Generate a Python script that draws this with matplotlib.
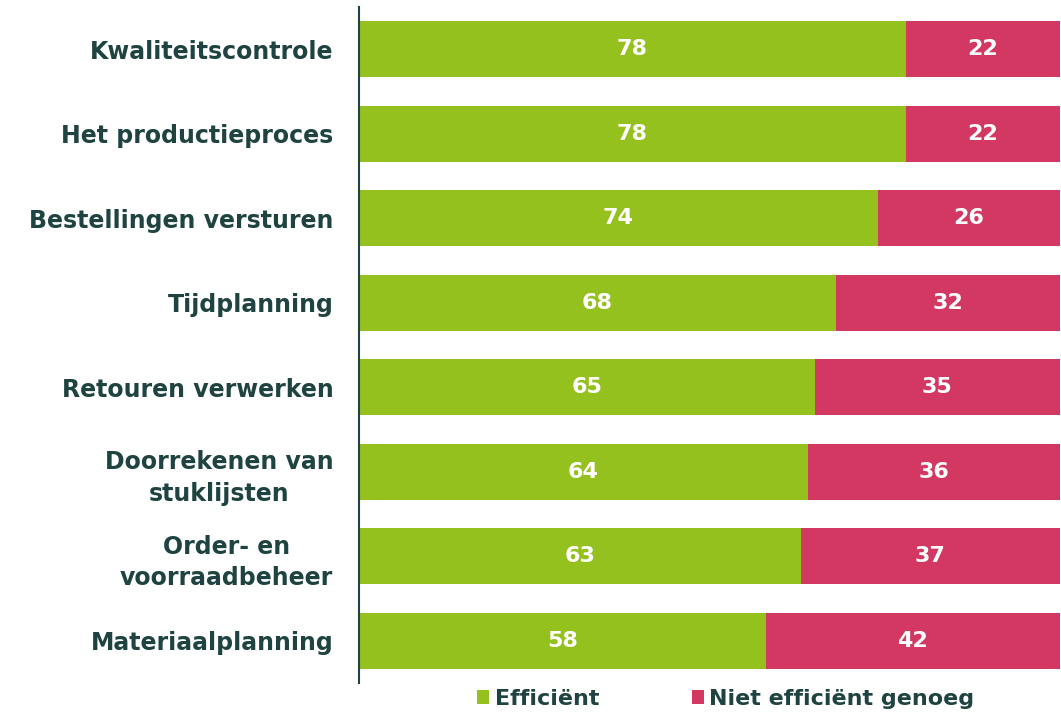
import matplotlib.pyplot as plt
import numpy as np

categories = ['Kwaliteitscontrole', 'Het productieproces', 'Bestellingen versturen',
              'Tijdplanning', 'Retouren verwerken', 'Doorrekenen van\nstuklijsten',
              'Order- en\nvoorraadbeheer', 'Materiaalplanning']
efficient = [78, 78, 74, 68, 65, 64, 63, 58]
niet_efficient = [22, 22, 26, 32, 35, 36, 37, 42]
series_names = ['Efficiënt', 'Niet efficiënt genoeg']

green = '#95c11f'
pink = '#d33862'
dark = '#1e4340'

fig = plt.figure(figsize=(10.61, 7.13), dpi=100)
ax = fig.add_axes([0.3384, 0.042, 0.6606, 0.948])

y = np.arange(len(categories))
h = 0.66
ax.barh(y, efficient, height=h, color=green, label=series_names[0])
ax.barh(y, niet_efficient, left=efficient, height=h, color=pink, label=series_names[1])

for i in range(len(categories)):
    ax.text(efficient[i] / 2, y[i], str(efficient[i]), ha='center', va='center',
            color='white', fontsize=16, fontweight='bold')
    ax.text(efficient[i] + niet_efficient[i] / 2, y[i], str(niet_efficient[i]),
            ha='center', va='center', color='white', fontsize=16, fontweight='bold')

ax.set_xlim(0, 100)
ax.set_ylim(7.5, -0.5)
ax.set_yticks(y)
ax.set_yticklabels(categories, fontsize=17, fontweight='bold', color=dark,
                   ha='right', multialignment='center', linespacing=1.4)
ax.tick_params(axis='y', length=0, pad=18.5)
ax.set_xticks([])
for s in ['top', 'right', 'bottom']:
    ax.spines[s].set_visible(False)
ax.spines['left'].set_color(dark)
ax.spines['left'].set_linewidth(1.5)

leg = fig.legend(loc='lower center', bbox_to_anchor=(0.684, -0.022), ncol=2,
                 frameon=False, fontsize=16, handlelength=0.55, handleheight=0.55,
                 handletextpad=0.25, columnspacing=4.15)
for t in leg.get_texts():
    t.set_color(dark)
    t.set_fontweight('bold')

fig.savefig('out.png', dpi=100)
